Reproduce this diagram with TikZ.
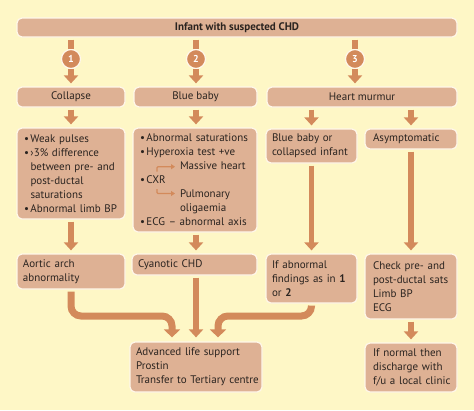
\documentclass[tikz,border=0pt]{standalone}
\usepackage{fontspec}
\setmainfont{PT Sans}
\usetikzlibrary{arrows.meta}
\definecolor{bg}{HTML}{FEF7C6}
\definecolor{boxc}{HTML}{DEB194}
\definecolor{arr}{HTML}{D38A5B}
\definecolor{txt}{HTML}{2B2420}
\definecolor{edge}{HTML}{FFF7EA}
\newcommand\bl[1]{\makebox[6.5pt][l]{\textbullet}\mbox{#1}}
\newcommand\ind[2][6.5pt]{\hspace*{#1}\mbox{#2}}
\tikzset{
  box/.style={draw=edge, line width=1.2pt, fill=boxc, rounded corners=5pt, text=txt,
    font=\fontsize{11}{14}\selectfont, inner sep=0pt},
  cbox/.style={box, align=center},
  lbox/.style={box, align=left, inner xsep=7pt},
  circ/.style={circle, fill=arr, draw=edge, line width=1.2pt, minimum size=19pt, inner sep=0pt,
    text=white, font=\bfseries\fontsize{10}{10}\selectfont},
  stem/.style={draw=arr, line width=5.5pt},
  arrow/.style={stem, -{Triangle[width=14pt,length=8pt]}, shorten >=3pt, shorten <=2pt},
  bigarrow/.style={draw=arr, line width=7pt, -{Triangle[width=16pt,length=8pt]}, shorten >=4pt,
    shorten <=2pt, rounded corners=10pt},
  thin/.style={draw=arr, line width=1.3pt, -{Triangle[width=5pt,length=4pt]}, rounded corners=1pt}
}
\begin{document}
\begin{tikzpicture}[x=1pt,y=-1pt]
\fill[bg] (0,0) rectangle (474,410);
\useasboundingbox (0,0) rectangle (474,410);

\node[cbox, minimum width=440pt, minimum height=19pt, font=\bfseries\fontsize{11}{12}\selectfont] (title) at (237,27.5) {Infant with suspected CHD};

\node[circ] (n1) at (71,59) {1};
\node[circ] (n2) at (196,59) {2};
\node[circ] (n3) at (355,59) {3};

\node[cbox, minimum width=108pt, minimum height=20pt] (collapse) at (71,97) {Collapse};
\node[cbox, minimum width=123pt, minimum height=20pt] (blue) at (195.5,97) {Blue baby};
\node[cbox, minimum width=190pt, minimum height=20pt] (murmur) at (362,97) {Heart murmur};

\node[lbox, minimum width=108pt, minimum height=91pt, text width=94pt] (weak) at (71,173.5)
  {\bl{Weak pulses}\\\bl{›3\% difference}\\\ind{between pre- and}\\\ind{post-ductal}\\\ind{saturations}\\\bl{Abnormal limb BP}};
\node[lbox, minimum width=124pt, minimum height=104pt, text width=110pt] (bluelist) at (195,180)
  {\bl{Abnormal saturations}\\\bl{Hyperoxia test +ve}\\\ind[40pt]{Massive heart}\\\bl{CXR}\\\ind[40pt]{Pulmonary}\\\ind[40pt]{oligaemia}\\\bl{ECG – abnormal axis}};
\node[lbox, minimum width=91pt, minimum height=34pt, inner xsep=6pt, text width=79pt] (bbc) at (311.5,146)
  {\mbox{Blue baby or}\\\mbox{collapsed infant}};
\node[lbox, minimum width=92pt, minimum height=20pt, inner xsep=8pt, text width=76pt] (asym) at (411,139)
  {\mbox{Asymptomatic}};

\node[lbox, minimum width=108pt, minimum height=35pt, inner xsep=6pt, text width=96pt] (aortic) at (71,271.5)
  {\mbox{Aortic arch}\\\mbox{abnormality}};
\node[lbox, minimum width=125pt, minimum height=21pt, inner xsep=6pt, text width=113pt] (cyan) at (194.5,264.5)
  {\mbox{Cyanotic CHD}};
\node[lbox, minimum width=91pt, minimum height=49pt, inner xsep=6pt, text width=79pt] (ifabn) at (311.5,278.5)
  {\mbox{If abnormal}\\\mbox{findings as in \textbf{1}}\\\mbox{or \textbf{2}}};
\node[lbox, minimum width=92pt, minimum height=65pt, inner xsep=8pt, text width=76pt] (check) at (411,286.5)
  {\mbox{Check pre- and}\\\mbox{post-ductal sats}\\\mbox{Limb BP}\\\mbox{ECG}};
\node[lbox, minimum width=92pt, minimum height=49pt, inner xsep=8pt, text width=76pt] (ifnorm) at (411,367.5)
  {\mbox{If normal then}\\\mbox{discharge with}\\\mbox{f/u a local clinic}};
\node[lbox, minimum width=132pt, minimum height=50pt, inner xsep=6pt, text width=120pt] (als) at (196,367)
  {\mbox{Advanced life support}\\\mbox{Prostin}\\\mbox{Transfer to Tertiary centre}};

% top stems
\draw[stem, shorten <=2pt] (title.south -| n1) -- (n1.north);
\draw[stem, shorten <=2pt] (title.south -| n2) -- (n2.north);
\draw[stem, shorten <=2pt] (title.south -| n3) -- (n3.north);
\draw[arrow, shorten <=0pt] (n1.south) -- (n1.south |- collapse.north);
\draw[arrow, shorten <=0pt] (n2.south) -- (n2.south |- blue.north);
\draw[arrow, shorten <=0pt] (n3.south) -- (n3.south |- murmur.north);

% second to third row
\draw[arrow] (collapse.south) -- (weak.north);
\draw[arrow] (blue.south -| n2) -- (n2 |- bluelist.north);
\draw[arrow] (murmur.south -| bbc) -- (bbc.north);
\draw[arrow] (murmur.south -| asym) -- (asym.north);

% third to fourth row
\draw[arrow] (weak.south) -- (aortic.north);
\draw[arrow] (bluelist.south -| n2) -- (n2 |- cyan.north);
\draw[arrow] (bbc.south) -- (ifabn.north);
\draw[arrow] (asym.south) -- (check.north);
\draw[arrow] (check.south) -- (ifnorm.north);

% bottom connectors
\coordinate (j1) at (172,316);
\coordinate (j2) at (218,316);
\draw[bigarrow] (aortic.south) -- (aortic.south |- j1) -- (j1) -- (j1 |- als.north);
\draw[arrow, shorten >=4pt] (cyan.south -| als) -- (als.north);
\draw[bigarrow] (ifabn.south) -- (ifabn.south |- j2) -- (j2) -- (j2 |- als.north);

% CXR elbows
\coordinate (e0) at (157,171.5);
\coordinate (e1) at (157,166.7);
\coordinate (e2) at (175,166.7);
\coordinate (f0) at (157,189);
\coordinate (f1) at (157,193.5);
\coordinate (f2) at (175,193.5);
\draw[thin] (e0) -- (e1) -- (e2);
\draw[thin] (f0) -- (f1) -- (f2);
\end{tikzpicture}
\end{document}
